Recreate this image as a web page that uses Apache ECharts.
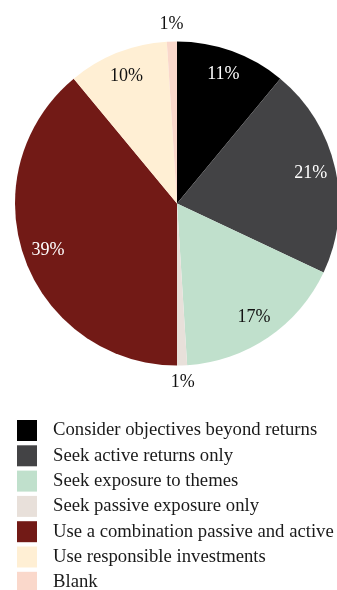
<!DOCTYPE html>
<html>
<head>
<meta charset="utf-8">
<script src="https://cdn.jsdelivr.net/npm/echarts@6/dist/echarts.min.js"></script>
<style>
  html, body { margin: 0; padding: 0; background: #ffffff; }
  #chart { width: 337px; height: 590px; }
</style>
</head>
<body>
<div id="chart"></div>
<script>
// Investor motivations, share of respondents (%)
const categories = [
  'Consider objectives beyond returns',
  'Seek active returns only',
  'Seek exposure to themes',
  'Seek passive exposure only',
  'Use a combination passive and active',
  'Use responsible investments',
  'Blank'
];
const shares = [11, 21, 17, 1, 39, 10, 1];
const sliceColors = ['#000000', '#434345', '#c0e0cc', '#e8e0da', '#721a16', '#ffefd4', '#fad8cb'];
const labelColors = ['#ffffff', '#ffffff', '#111111', '#111111', '#ffffff', '#111111', '#111111'];
// small slices carry their label just outside the rim
const labelOutside = [false, false, false, true, false, false, true];

const FONT = 'Liberation Serif';
const CENTER = [177, 203.5];
const R = 162;

const slices = categories.map((name, i) => ({
  name,
  value: shares[i],
  itemStyle: { color: sliceColors[i] }
}));

function labelRing(showOutside) {
  return categories.map((name, i) => ({
    name,
    value: shares[i],
    itemStyle: { color: 'rgba(0,0,0,0)' },
    label: {
      show: labelOutside[i] === showOutside,
      color: labelColors[i]
    }
  }));
}

const ringBase = {
  type: 'pie',
  center: CENTER,
  startAngle: 90,
  clockwise: true,
  silent: true,
  legendHoverLink: false,
  avoidLabelOverlap: false,
  emphasis: { disabled: true },
  labelLine: { show: false },
  label: {
    position: 'inside',
    formatter: '{c}%',
    fontFamily: FONT,
    fontSize: 18
  }
};

const chart = echarts.init(document.getElementById('chart'), null, { renderer: 'canvas' });
chart.setOption({
  animation: false,
  backgroundColor: '#ffffff',
  legend: {
    orient: 'vertical',
    left: 17,
    top: 420,
    height: 220,
    padding: 0,
    itemWidth: 20,
    itemHeight: 21,
    itemGap: 4.3,
    icon: 'rect',
    selectedMode: false,
    data: categories.map((name, i) => ({ name, itemStyle: { color: sliceColors[i] } })),
    textStyle: {
      fontFamily: FONT,
      fontSize: 18.7,
      color: '#1a1a1a',
      padding: [0, 0, 0, 11]
    }
  },
  series: [
    {
      type: 'pie',
      name: 'shares',
      center: CENTER,
      radius: [0, R],
      startAngle: 90,
      clockwise: true,
      avoidLabelOverlap: false,
      label: { show: false },
      labelLine: { show: false },
      itemStyle: { borderWidth: 0 },
      emphasis: { disabled: true },
      data: slices
    },
    Object.assign({}, ringBase, { radius: [106, R], data: labelRing(false) }),
    Object.assign({}, ringBase, { radius: [168, 184], data: labelRing(true) })
  ]
});
</script>
</body>
</html>
